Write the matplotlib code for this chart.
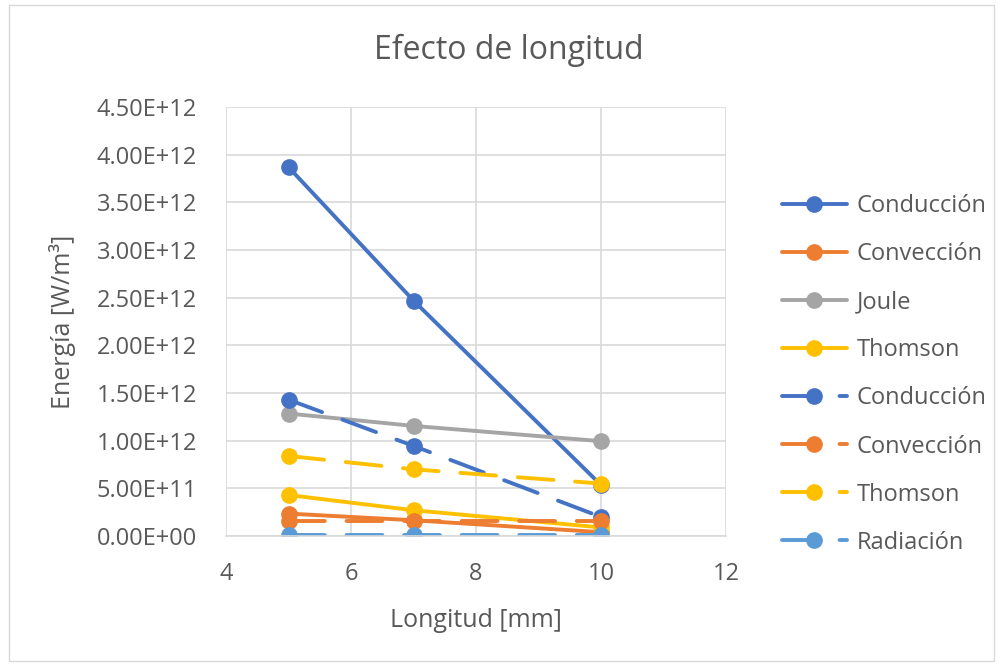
import matplotlib
matplotlib.use('Agg')
import matplotlib.pyplot as plt
from matplotlib.ticker import FuncFormatter, MultipleLocator
from matplotlib.patches import Rectangle
from matplotlib.lines import Line2D

plt.rcParams['font.family'] = ['Open Sans', 'DejaVu Sans']

longitud = [5, 7, 10]

# series, in legend order
labels = ['Conducción', 'Convección', 'Joule', 'Thomson',
          'Conducción', 'Convección', 'Thomson', 'Radiación']
conduccion = [3.87e12, 2.47e12, 0.535e12]
conveccion = [0.235e12, 0.165e12, 0.04e12]
joule = [1.285e12, 1.155e12, 0.995e12]
thomson = [0.43e12, 0.27e12, 0.09e12]
conduccion_b = [1.43e12, 0.945e12, 0.20e12]
conveccion_b = [0.155e12, 0.155e12, 0.155e12]
thomson_b = [0.84e12, 0.70e12, 0.55e12]
radiacion_b = [0.012e12, 0.012e12, 0.012e12]

series = [conduccion, conveccion, joule, thomson,
          conduccion_b, conveccion_b, thomson_b, radiacion_b]
colors = ['#4472C4', '#ED7D31', '#A5A5A5', '#FFC000',
          '#4472C4', '#ED7D31', '#FFC000', '#5B9BD5']
dashed = [False, False, False, False, True, True, True, True]

text_color = '#595959'
DASH = (0, (9.2, 5.6))

fig = plt.figure(figsize=(10, 6.66), dpi=100)
ax = fig.add_axes([0.226, 0.1952, 0.500, 0.644])

handles = []
for vals, lab, col, dsh in zip(series, labels, colors, dashed):
    style = dict(color=col, lw=2.8, marker='o', markersize=11,
                 solid_capstyle='round', dash_capstyle='round',
                 linestyle=DASH if dsh else '-')
    ax.plot(longitud, vals, **style)
    handles.append(Line2D([], [], label=lab, **style))

ax.set_xlim(4, 12)
ax.set_ylim(0, 4.5e12)
ax.xaxis.set_major_locator(MultipleLocator(2))
ax.yaxis.set_major_locator(MultipleLocator(0.5e12))
ax.yaxis.set_major_formatter(FuncFormatter(lambda v, p: '%.2E' % v))
ax.grid(True, color='#D9D9D9', lw=1.2)
ax.set_axisbelow(True)
for side in ['left', 'right', 'top']:
    ax.spines[side].set_visible(False)
ax.spines['bottom'].set_color('#D9D9D9')
ax.spines['bottom'].set_linewidth(1.2)
ax.tick_params(length=0, labelsize=17, colors=text_color)
ax.tick_params(axis='x', pad=19)
ax.tick_params(axis='y', pad=21)

ax.set_xlabel('Longitud [mm]', fontsize=18, color=text_color, va='center')
ax.xaxis.set_label_coords(0.5, -0.198)
ax.set_ylabel('Energía [W/m³]', fontsize=18, color=text_color, va='center')
ax.yaxis.set_label_coords(-0.328, 0.5)
fig.text(0.509, 0.925, 'Efecto de longitud', ha='center', va='center',
         fontsize=23, color=text_color)

ax.legend(handles=handles, loc='upper left', bbox_to_anchor=(1.112, 0.797),
          frameon=False, fontsize=17, labelspacing=1.02, handlelength=2.75,
          handletextpad=0.42, borderpad=0, borderaxespad=0,
          labelcolor=text_color)

fig.patches.append(Rectangle((0.009, 0.008), 0.985, 0.985, transform=fig.transFigure,
                             fill=False, edgecolor='#D9D9D9', lw=1))

fig.savefig('out.png', dpi=100)
